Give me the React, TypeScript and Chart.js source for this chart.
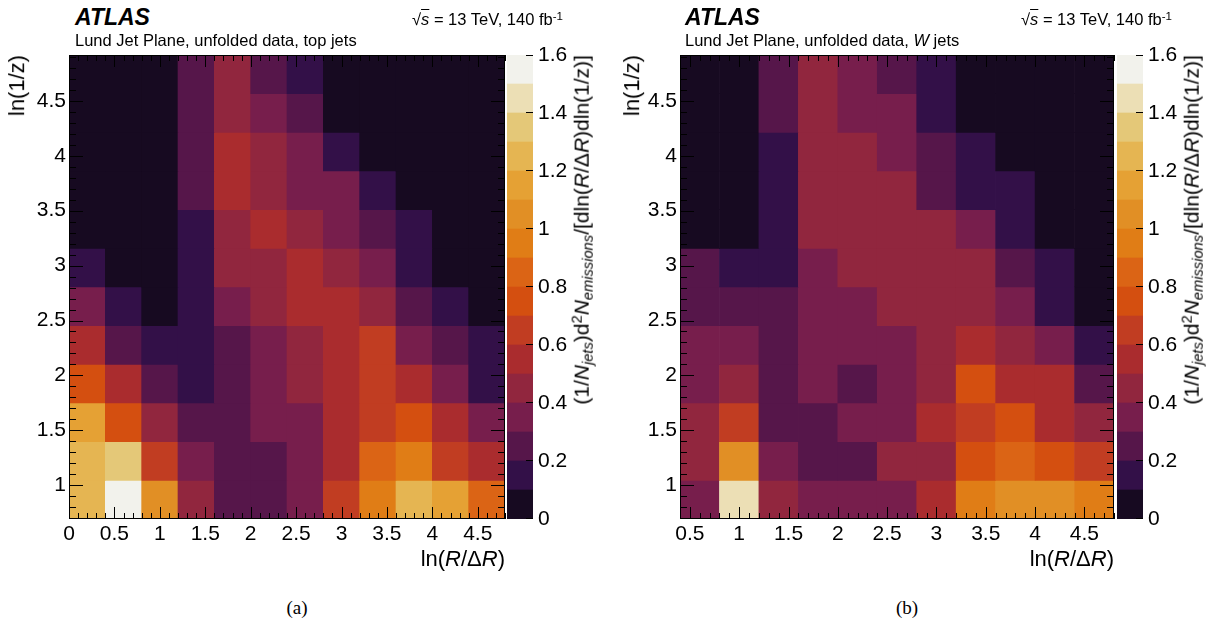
import React, { useEffect, useRef } from 'react';
import { Chart, registerables } from 'chart.js';

Chart.register(...registerables);

const SANS = "'Liberation Sans', Arial, Helvetica, sans-serif";
const SERIF = "'Liberation Serif', 'Times New Roman', serif";

// ---- colour scale (z = (1/N_jets) d2N / dln(R/dR) dln(1/z)) ----
const Z_EDGES = [0, 0.1, 0.2, 0.3, 0.4, 0.5, 0.6, 0.7, 0.8, 0.9, 1.0, 1.1, 1.2, 1.3, 1.4, 1.5, 1.6];
const Z_COLORS = [
  '#170a21', '#331048', '#56164a', '#771e4c', '#91263e', '#aa2c2e', '#c13d22', '#d44f10',
  '#db6415', '#e07d16', '#e18f25', '#e5a134', '#e5b552', '#e4c878', '#ecdfb5', '#f2f2ec',
];
const Z_TICKS = [0, 0.2, 0.4, 0.6, 0.8, 1, 1.2, 1.4, 1.6];

// ---- ln(1/z) bins (shared by both panels) ----
const Y_EDGES = [0.693, 1.045, 1.397, 1.749, 2.101, 2.453, 2.805, 3.157, 3.509, 3.861, 4.213, 4.565, 4.917];
const Y_TICKS = [1, 1.5, 2, 2.5, 3, 3.5, 4, 4.5];

// ---- ln(R/dR) bins ----
const TOP_X_EDGES = [0, 0.4, 0.8, 1.2, 1.6, 2.0, 2.4, 2.8, 3.2, 3.6, 4.0, 4.4, 4.8];
const TOP_X_TICKS = [0, 0.5, 1, 1.5, 2, 2.5, 3, 3.5, 4, 4.5];
const W_X_EDGES = [0.4, 0.8, 1.2, 1.6, 2.0, 2.4, 2.8, 3.2, 3.6, 4.0, 4.4, 4.8];
const W_X_TICKS = [0.5, 1, 1.5, 2, 2.5, 3, 3.5, 4, 4.5];

// ---- values: rows from the top ln(1/z) bin down to the bottom one ----
const TOP_JETS = [
  [0.05, 0.05, 0.05, 0.25, 0.45, 0.25, 0.15, 0.05, 0.05, 0.05, 0.05, 0.05],
  [0.05, 0.05, 0.05, 0.25, 0.45, 0.35, 0.25, 0.05, 0.05, 0.05, 0.05, 0.05],
  [0.05, 0.05, 0.05, 0.25, 0.55, 0.45, 0.35, 0.15, 0.05, 0.05, 0.05, 0.05],
  [0.05, 0.05, 0.05, 0.25, 0.55, 0.45, 0.35, 0.35, 0.15, 0.05, 0.05, 0.05],
  [0.05, 0.05, 0.05, 0.15, 0.45, 0.55, 0.45, 0.35, 0.25, 0.15, 0.05, 0.05],
  [0.15, 0.05, 0.05, 0.15, 0.45, 0.45, 0.55, 0.45, 0.35, 0.15, 0.05, 0.05],
  [0.35, 0.15, 0.05, 0.15, 0.35, 0.45, 0.55, 0.55, 0.45, 0.25, 0.15, 0.05],
  [0.55, 0.25, 0.15, 0.15, 0.25, 0.35, 0.45, 0.55, 0.65, 0.35, 0.25, 0.15],
  [0.75, 0.55, 0.25, 0.15, 0.25, 0.35, 0.45, 0.55, 0.65, 0.55, 0.35, 0.15],
  [1.15, 0.75, 0.45, 0.25, 0.25, 0.35, 0.35, 0.55, 0.65, 0.75, 0.55, 0.35],
  [1.25, 1.35, 0.65, 0.35, 0.25, 0.25, 0.35, 0.55, 0.85, 0.95, 0.65, 0.55],
  [1.25, 1.55, 1.05, 0.45, 0.25, 0.25, 0.35, 0.65, 0.95, 1.25, 1.15, 0.85],
];

const W_JETS = [
  [0.05, 0.05, 0.25, 0.45, 0.35, 0.25, 0.15, 0.05, 0.05, 0.05, 0.05],
  [0.05, 0.05, 0.25, 0.45, 0.35, 0.35, 0.15, 0.05, 0.05, 0.05, 0.05],
  [0.05, 0.05, 0.15, 0.45, 0.45, 0.35, 0.25, 0.15, 0.05, 0.05, 0.05],
  [0.05, 0.05, 0.15, 0.45, 0.45, 0.45, 0.25, 0.15, 0.15, 0.05, 0.05],
  [0.05, 0.05, 0.15, 0.45, 0.45, 0.45, 0.45, 0.35, 0.15, 0.05, 0.05],
  [0.25, 0.15, 0.15, 0.35, 0.45, 0.45, 0.45, 0.45, 0.25, 0.15, 0.05],
  [0.25, 0.25, 0.25, 0.35, 0.35, 0.45, 0.45, 0.45, 0.35, 0.15, 0.05],
  [0.35, 0.35, 0.25, 0.35, 0.35, 0.35, 0.45, 0.55, 0.45, 0.35, 0.15],
  [0.35, 0.45, 0.25, 0.35, 0.25, 0.35, 0.45, 0.75, 0.55, 0.55, 0.25],
  [0.45, 0.65, 0.25, 0.25, 0.35, 0.35, 0.55, 0.65, 0.75, 0.55, 0.45],
  [0.45, 1.05, 0.35, 0.25, 0.25, 0.45, 0.45, 0.75, 0.85, 0.75, 0.65],
  [0.35, 1.45, 0.45, 0.35, 0.35, 0.35, 0.55, 0.95, 1.05, 1.05, 0.95],
];

function colorFor(v: number): string {
  for (let i = 0; i < Z_EDGES.length - 1; i++) {
    if (v >= Z_EDGES[i] && v < Z_EDGES[i + 1]) return Z_COLORS[i];
  }
  return v < Z_EDGES[0] ? Z_COLORS[0] : Z_COLORS[Z_COLORS.length - 1];
}

const TICK_FONT = { family: SANS, size: 21 };
const LINE_COLOR = '#000000';

type Box = { l: number; t: number; r: number; b: number };

// frame + ROOT-style inner ticks of the heat map, and the tick marks of the colour bar
function drawFrameTicks(chart: any, cbOffset: number) {
  const ctx: CanvasRenderingContext2D = chart.ctx;
  if (!ctx) return;
  const a = chart.chartArea;
  const x = chart.scales.x;
  const y = chart.scales.y;
  ctx.save();
  ctx.strokeStyle = LINE_COLOR;
  ctx.lineWidth = 1;
  ctx.beginPath();
  const x0 = Math.ceil(x.min * 10 - 1e-6);
  const x1 = Math.floor(x.max * 10 + 1e-6);
  for (let k = x0; k <= x1; k++) {
    const len = k % 5 === 0 ? 12 : 6;
    const px = Math.round(x.getPixelForValue(k / 10)) + 0.5;
    ctx.moveTo(px, a.bottom);
    ctx.lineTo(px, a.bottom - len);
    ctx.moveTo(px, a.top);
    ctx.lineTo(px, a.top + len);
  }
  const y0 = Math.ceil(y.min * 10 - 1e-6);
  const y1 = Math.floor(y.max * 10 + 1e-6);
  for (let k = y0; k <= y1; k++) {
    const len = k % 5 === 0 ? 14 : 7;
    const py = Math.round(y.getPixelForValue(k / 10)) + 0.5;
    ctx.moveTo(a.left, py);
    ctx.lineTo(a.left + len, py);
    ctx.moveTo(a.right, py);
    ctx.lineTo(a.right - len, py);
  }
  // colour-bar ticks (the bar shares the frame's vertical extent)
  const zMin = Z_EDGES[0];
  const zMax = Z_EDGES[Z_EDGES.length - 1];
  const cbx = a.right + cbOffset;
  Z_TICKS.forEach((v) => {
    const py = Math.round(a.bottom - ((v - zMin) / (zMax - zMin)) * (a.bottom - a.top)) + (v === zMax ? 0.5 : -0.5);
    ctx.moveTo(cbx, py);
    ctx.lineTo(cbx - 7, py);
  });
  ctx.stroke();
  ctx.strokeRect(a.left + 0.5, a.top + 0.5, a.right - a.left - 1, a.bottom - a.top - 1);
  ctx.restore();
}

function Heatmap({ plot, cbRight, xEdges, xTicks, values }: { plot: Box; cbRight: number; xEdges: number[]; xTicks: number[]; values: number[][] }) {
  const ref = useRef<HTMLCanvasElement>(null);
  const PADL = 65, PADT = 20, PADR = 40, PADB = 35;
  const width = plot.r - plot.l + PADL + PADR;
  const height = plot.b - plot.t + PADT + PADB;
  useEffect(() => {
    const nRows = values.length;
    const datasets = values.map((row, ri) => {
      const bi = nRows - 1 - ri;
      return {
        data: row.map((v, ci) => ({ x: (xEdges[ci] + xEdges[ci + 1]) / 2, y: [Y_EDGES[bi], Y_EDGES[bi + 1]] })),
        backgroundColor: row.map(colorFor),
        borderWidth: 0,
        grouped: false,
        barPercentage: 1,
        categoryPercentage: 1,
      };
    });
    const framePlugin = {
      id: 'rootFrame',
      afterDraw(chart: any) { drawFrameTicks(chart, cbRight - plot.r); },
    };
    const chart = new Chart(ref.current as HTMLCanvasElement, {
      type: 'bar',
      data: { datasets } as any,
      plugins: [framePlugin],
      options: {
        animation: false,
        responsive: false,
        events: [],
        layout: { padding: { left: 0, top: PADT, right: PADR, bottom: 0 } },
        plugins: { legend: { display: false }, tooltip: { enabled: false } },
        scales: {
          x: {
            type: 'linear',
            offset: false,
            min: xEdges[0],
            max: xEdges[xEdges.length - 1],
            grid: { display: false, drawTicks: false },
            border: { display: false },
            afterBuildTicks: (s: any) => { s.ticks = xTicks.map((v) => ({ value: v })); },
            afterFit: (s: any) => { s.height = PADB; },
            ticks: { autoSkip: false, maxRotation: 0, padding: 3, color: '#000', font: TICK_FONT, callback: (v: any) => String(v) },
          },
          y: {
            type: 'linear',
            min: Y_EDGES[0],
            max: Y_EDGES[Y_EDGES.length - 1],
            grid: { display: false, drawTicks: false },
            border: { display: false },
            afterBuildTicks: (s: any) => { s.ticks = Y_TICKS.map((v) => ({ value: v })); },
            afterFit: (s: any) => { s.width = PADL; },
            ticks: { autoSkip: false, padding: 3, color: '#000', font: TICK_FONT, callback: (v: any) => String(v) },
          },
        },
      } as any,
    });
    return () => chart.destroy();
  }, []);
  return (
    <canvas
      ref={ref}
      width={width}
      height={height}
      style={{ position: 'absolute', left: plot.l - PADL, top: plot.t - PADT, width, height }}
    />
  );
}

function ColorBar({ plot }: { plot: Box }) {
  const ref = useRef<HTMLCanvasElement>(null);
  const PADL = 5, PADT = 30, PADB = 30, AXW = 55;
  const width = plot.r - plot.l + PADL + AXW;
  const height = plot.b - plot.t + PADT + PADB;
  useEffect(() => {
    const datasets = Z_COLORS.map((c, i) => ({
      data: [[Z_EDGES[i], Z_EDGES[i + 1]]],
      backgroundColor: c,
      borderWidth: 0,
      grouped: false,
      barPercentage: 1,
      categoryPercentage: 1,
    }));
    const chart = new Chart(ref.current as HTMLCanvasElement, {
      type: 'bar',
      data: { labels: [''], datasets } as any,
      options: {
        animation: false,
        responsive: false,
        events: [],
        layout: { padding: { left: PADL, top: PADT, right: 0, bottom: PADB } },
        plugins: { legend: { display: false }, tooltip: { enabled: false } },
        scales: {
          x: { display: false },
          y: {
            type: 'linear',
            position: 'right',
            min: Z_EDGES[0],
            max: Z_EDGES[Z_EDGES.length - 1],
            grid: { display: false, drawTicks: false },
            border: { display: false },
            afterBuildTicks: (s: any) => { s.ticks = Z_TICKS.map((v) => ({ value: v })); },
            afterFit: (s: any) => { s.width = AXW; },
            ticks: { autoSkip: false, padding: 5, color: '#000', font: TICK_FONT, callback: (v: any) => String(v) },
          },
        },
      } as any,
    });
    return () => chart.destroy();
  }, []);
  return (
    <canvas
      ref={ref}
      width={width}
      height={height}
      style={{ position: 'absolute', left: plot.l - PADL, top: plot.t - PADT, width, height }}
    />
  );
}

const SUB: React.CSSProperties = { fontSize: '0.7em', verticalAlign: '-0.3em', lineHeight: 0 };
const SUP: React.CSSProperties = { fontSize: '0.7em', verticalAlign: '0.45em', lineHeight: 0 };

function PanelText({ x0, sqrtRight, yTitleLeft, xTitleRight, zTitleLeft, caption, capX, subtitle }: any) {
  return (
    <>
      <div style={{ position: 'absolute', left: x0, top: 6, fontFamily: SANS, fontWeight: 'bold', fontStyle: 'italic', fontSize: 23, lineHeight: '23px', whiteSpace: 'nowrap' }}>ATLAS</div>
      <div style={{ position: 'absolute', left: x0, top: 32, fontFamily: SANS, fontSize: 16.5, lineHeight: '16.5px', whiteSpace: 'nowrap' }}>{subtitle}</div>
      <div style={{ position: 'absolute', right: 1225 - sqrtRight, top: 11, fontFamily: SANS, fontSize: 16.5, lineHeight: '16.5px', whiteSpace: 'nowrap' }}>
        √<span style={{ textDecoration: 'overline' }}><i>s</i></span> = 13 TeV, 140 fb<span style={SUP}>-1</span>
      </div>
      <div style={{ position: 'absolute', right: 1225 - yTitleLeft, top: 55, transformOrigin: 'right top', transform: 'rotate(-90deg)', fontFamily: SANS, fontSize: 22, lineHeight: '22px', whiteSpace: 'nowrap' }}>ln(1/z)</div>
      <div style={{ position: 'absolute', right: 1225 - xTitleRight, top: 548, fontFamily: SANS, fontSize: 22, lineHeight: '22px', whiteSpace: 'nowrap' }}>
        ln(<i>R</i>/Δ<i>R</i>)
      </div>
      <div style={{ position: 'absolute', right: 1225 - zTitleLeft, top: 55, transformOrigin: 'right top', transform: 'rotate(-90deg)', fontFamily: SANS, fontSize: 21, lineHeight: '21px', whiteSpace: 'nowrap' }}>
        (1/<i>N</i><span style={SUB}><i>jets</i></span>)d<span style={SUP}>2</span><i>N</i><span style={SUB}><i>emissions</i></span>/[dln(<i>R</i>/Δ<i>R</i>)dln(1/z)]
      </div>
      <div style={{ position: 'absolute', left: capX, top: 598, transform: 'translateX(-50%)', fontFamily: SERIF, fontSize: 19, lineHeight: '19px', whiteSpace: 'nowrap' }}>{caption}</div>
    </>
  );
}

export default function App() {
  return (
    <div style={{ position: 'absolute', left: 0, top: 0, width: 1225, height: 623, background: '#fff', overflow: 'hidden', color: '#000' }}>
      <ColorBar plot={{ l: 507, t: 55, r: 533, b: 519 }} />
      <Heatmap plot={{ l: 69, t: 55, r: 505, b: 519 }} cbRight={533} xEdges={TOP_X_EDGES} xTicks={TOP_X_TICKS} values={TOP_JETS} />
      <ColorBar plot={{ l: 1117, t: 55, r: 1143, b: 519 }} />
      <Heatmap plot={{ l: 680, t: 55, r: 1114, b: 519 }} cbRight={1143} xEdges={W_X_EDGES} xTicks={W_X_TICKS} values={W_JETS} />
      <PanelText
        x0={75} sqrtRight={563} yTitleLeft={6} xTitleRight={505} zTitleLeft={571} caption="(a)" capX={297}
        subtitle={<>Lund Jet Plane, unfolded data, top jets</>}
      />
      <PanelText
        x0={685} sqrtRight={1172} yTitleLeft={621} xTitleRight={1114} zTitleLeft={1181} caption="(b)" capX={907}
        subtitle={<>Lund Jet Plane, unfolded data, <i>W</i> jets</>}
      />
    </div>
  );
}
